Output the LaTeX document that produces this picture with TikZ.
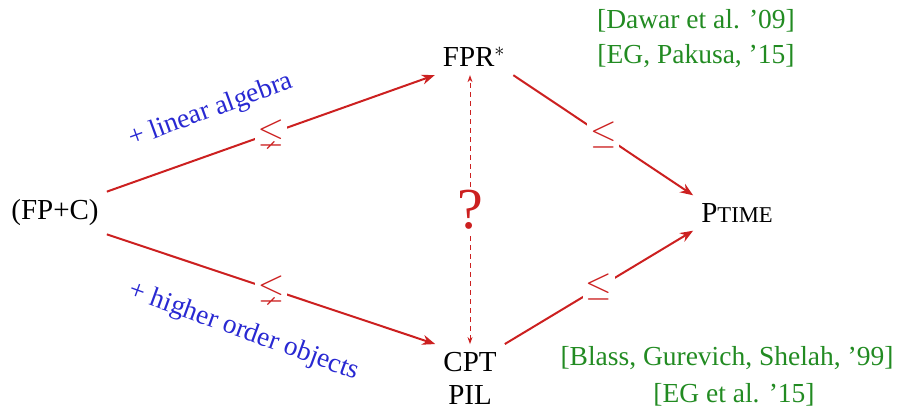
\documentclass[tikz,border=0pt]{standalone}
\usepackage{fix-cm}
\usepackage{amssymb}
\usepackage{fontspec}
\setmainfont{Liberation Serif}
\usetikzlibrary{arrows.meta}
\definecolor{myred}{RGB}{204,32,32}
\definecolor{myblue}{RGB}{40,40,210}
\definecolor{mygreen}{RGB}{34,139,34}
\begin{document}
\begin{tikzpicture}[x=1pt,y=-1pt,
  main/.style={font=\fontsize{29}{34}\selectfont, inner sep=8pt},
  cite/.style={font=\fontsize{27.5}{33}\selectfont, text=mygreen, inner sep=0pt},
  lab/.style={font=\fontsize{27.5}{33}\selectfont, text=myblue, inner sep=0pt},
  conn/.style={draw=myred, line width=2pt, -{Stealth[length=13pt,width=10pt]}},
  rel/.style={fill=white, text=myred, font=\fontsize{34}{38}\selectfont, inner sep=3pt},
  qline/.style={draw=myred, line width=0.8pt, dash pattern=on 5pt off 4pt,
    {Stealth[length=7pt,width=5pt]}-{Stealth[length=7pt,width=5pt]}},
  qmark/.style={fill=white, text=myred, font=\fontsize{58}{62}\selectfont, inner sep=3pt}
]
\useasboundingbox (0,0) rectangle (913,411);
\node[main] (fpc) at (55,213) {(FP+C)};
\node[main] (fpr) at (474,57) {FPR$^*$};
\node[main] (ptime) at (737,213) {P{\fontsize{22.6}{26}\selectfont TIME}};
\node[main] (cpt) at (470,362) {CPT};
\node[main] (pil) at (470,395) {PIL};

\draw[conn] (fpc.north east) -- node[rel] {$\lneq$} (fpr.south west);
\draw[conn] (fpc.south east) -- node[rel] {$\lneq$} (cpt.north west);
\draw[conn] (fpr.south east) -- node[rel] {$\leq$} (ptime.north west);
\draw[conn] (cpt.north east) -- node[rel] {$\leq$} (ptime.south west);
\draw[qline] (cpt.north) -- node[qmark] {?} (cpt.north |- fpr.south);

\node[lab, rotate=20] (la) at (211,111) {+ linear algebra};
\node[lab, rotate=-20] (lb) at (244,332) {+ higher order objects};

\node[cite] (c1) at (696,21) {[Dawar et al. ’09]};
\node[cite] (c2) at (696,56) {[EG, Pakusa, ’15]};
\node[cite] (c3) at (727,358) {[Blass, Gurevich, Shelah, ’99]};
\node[cite] (c4) at (734,395) {[EG et al. ’15]};
\end{tikzpicture}
\end{document}
